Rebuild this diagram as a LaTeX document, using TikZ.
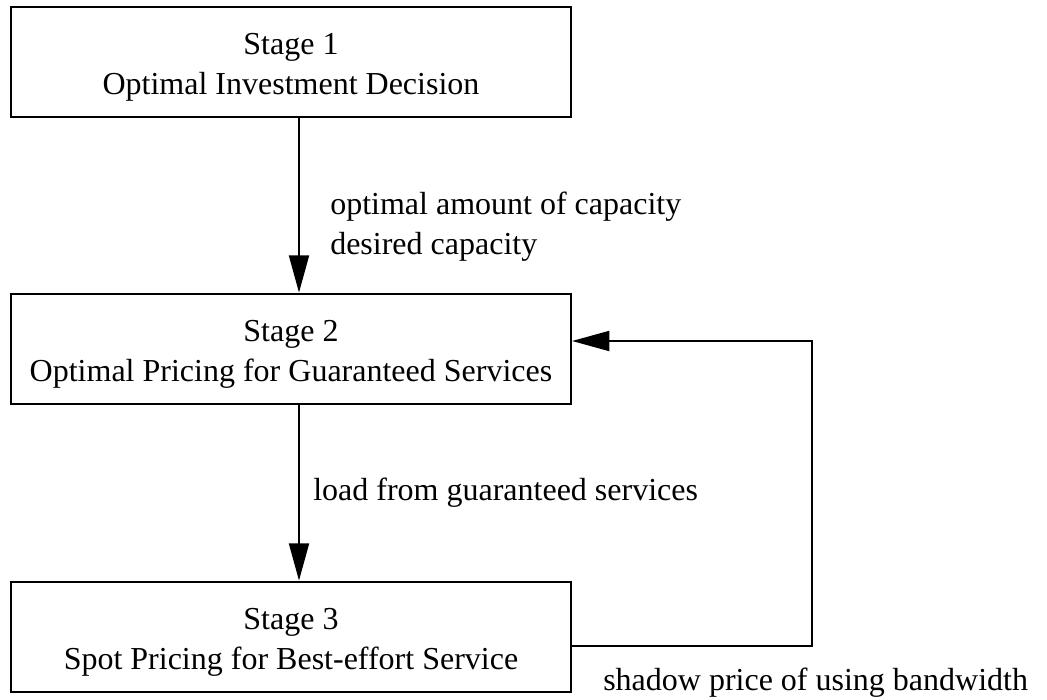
\documentclass[tikz,border=0pt]{standalone}
\usepackage{fontspec}
\setmainfont{Liberation Serif}
\usetikzlibrary{arrows.meta,positioning}

\begin{document}
\begin{tikzpicture}[x=0.75pt,y=-0.75pt,
  font=\fontsize{24}{30}\selectfont,
  stagebox/.style={draw, line width=1.6pt, minimum width=420pt,
                   minimum height=83pt, inner sep=0pt},
  stagetext/.style={align=center, inner sep=0pt},
  flow/.style={line width=1.6pt, -{Triangle[length=28pt,width=15pt]}}]
  \useasboundingbox (0,0) rectangle (1047,700);
  % the three stages
  \node[stagebox] (stage1) at (291,62) {};
  \node[stagebox] (stage2) at (291,349) {};
  \node[stagebox] (stage3) at (291,637) {};
  \node[stagetext] (stage1txt) at ([yshift=-3.75pt]stage1.center) {Stage 1\\Optimal Investment Decision};
  \node[stagetext] (stage2txt) at ([yshift=-3.75pt]stage2.center) {Stage 2\\Optimal Pricing for Guaranteed Services};
  \node[stagetext] (stage3txt) at ([yshift=-3.75pt]stage3.center) {Stage 3\\Spot Pricing for Best-effort Service};

  \draw[flow] ([xshift=6pt]stage1.south) -- ([xshift=6pt]stage2.north);
  \draw[flow] ([xshift=6pt]stage2.south) -- ([xshift=6pt]stage3.north);

  % feedback from stage 3 back to stage 2
  \coordinate (loopR) at (812,341);
  \draw[flow] ([yshift=-6.75pt]stage3.east) -| (loopR) -- (stage2.east |- loopR);

  \node[anchor=west, align=left, inner sep=0pt] (capLbl) at (330,227)
    {optimal amount of capacity\\desired capacity};
  \node[anchor=base west, inner sep=0pt] (loadLbl) at (313,500) {load from guaranteed services};
  \node[anchor=base west, inner sep=0pt] (priceLbl) at (603,690) {shadow price of using bandwidth};
\end{tikzpicture}
\end{document}
